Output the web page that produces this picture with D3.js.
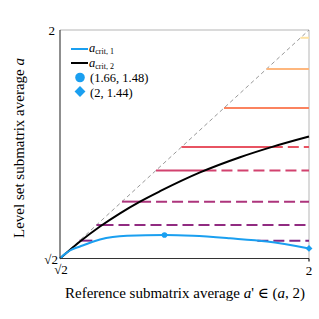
<!DOCTYPE html>
<html><head><meta charset="utf-8">
<script src="https://cdn.jsdelivr.net/npm/d3@7"></script>
<style>body{margin:0;background:#fff}svg{display:block}</style>
</head><body><svg id="c" width="319" height="319" font-family="'Liberation Serif','DejaVu Serif','Times New Roman',serif"></svg>
<script>
const SQ2 = Math.SQRT2;
// a_crit,1 (blue) samples
const crit1X = [SQ2, 1.4260, 1.4377, 1.4613, 1.5083, 1.5718, 1.6612, 1.7271, 1.8142, 1.9012, 2.0];
const crit1Y = [SQ2, 1.4260, 1.4347, 1.4450, 1.4629, 1.4724, 1.4744, 1.4724, 1.4660, 1.4578, 1.4401];
// a_crit,2 (black) samples
const crit2X = [SQ2, 1.4613, 1.5083, 1.5554, 1.6024, 1.6495, 1.7436, 1.8377, 1.9153, 2.0];
const crit2Y = [SQ2, 1.4578, 1.4962, 1.5301, 1.5601, 1.5867, 1.6349, 1.6739, 1.7011, 1.7270];
// level sets a
const levels = [1.98, 1.90, 1.80, 1.70, 1.64, 1.56, 1.50, 1.46];
// highlighted points
const maxPoint = [1.66, 1.4744];
const endPoint = [2.0, 1.4401];
const legendLabels = ["(1.66, 1.48)", "(2, 1.44)"];
const xTickLabels = ["√2", "2"];
const yTickLabels = ["√2", "2"];

const svg = d3.select("#c");
const x = d3.scaleLinear([SQ2, 2], [60, 309]);
const y = d3.scaleLinear([SQ2, 2], [258.5, 30]);

function interp(xs, ys, v) {
  if (v <= xs[0]) return ys[0];
  for (let i = 1; i < xs.length; i++) {
    if (v <= xs[i]) { const t = (v - xs[i-1]) / (xs[i] - xs[i-1]); return ys[i-1] + t * (ys[i] - ys[i-1]); }
  }
  return ys[ys.length-1];
}
const curve = d3.curveMonotoneX;

// frame
svg.append("line").attr("x1", x(SQ2)).attr("x2", x(2)).attr("y1", y(2)).attr("y2", y(2)).attr("stroke", "#b5b5b5").attr("stroke-width", 1);
svg.append("line").attr("x1", x(2)).attr("x2", x(2)).attr("y1", y(2)).attr("y2", y(SQ2)).attr("stroke", "#b5b5b5").attr("stroke-width", 1);

// diagonal
svg.append("line").attr("x1", x(SQ2)).attr("y1", y(SQ2)).attr("x2", x(2)).attr("y2", y(2))
  .attr("stroke", "#999").attr("stroke-width", 1).attr("stroke-dasharray", "4,3");

// level lines
const N = 600;
levels.forEach(L => {
  const col = d3.interpolateMagma(0.32 + 0.64 * (L - SQ2) / (2 - SQ2));
  const runs = [];
  let cur = null;
  for (let i = 0; i <= N; i++) {
    const ap = L + (2 - L) * i / N;
    const c1 = interp(crit1X, crit1Y, ap), c2 = interp(crit2X, crit2Y, ap);
    const st = L <= c1 ? 0 : (L >= c2 ? 2 : 1);
    if (!cur || cur.st !== st) { if (cur) { cur.b = ap; runs.push(cur); } cur = {st, a: ap, b: ap}; }
    else cur.b = ap;
  }
  runs.push(cur);
  runs.filter(r => r.st > 0 && r.b > r.a).forEach(r => {
    svg.append("line").attr("x1", x(r.a)).attr("x2", x(r.b)).attr("y1", y(L)).attr("y2", y(L))
      .attr("stroke", col).attr("stroke-width", 2)
      .attr("stroke-dasharray", r.st === 1 ? "11,5" : null);
  });
});

// black curve
svg.append("path").datum(d3.zip(crit2X, crit2Y))
  .attr("d", d3.line().x(d => x(d[0])).y(d => y(d[1])).curve(curve))
  .attr("fill", "none").attr("stroke", "#000").attr("stroke-width", 2);
// blue curve
svg.append("path").datum(d3.zip(crit1X, crit1Y))
  .attr("d", d3.line().x(d => x(d[0])).y(d => y(d[1])).curve(curve))
  .attr("fill", "none").attr("stroke", "#1a9ff0").attr("stroke-width", 2);
// small markers on curve
svg.append("circle").attr("cx", x(maxPoint[0])).attr("cy", y(maxPoint[1])).attr("r", 2.8).attr("fill", "#1a9ff0");
svg.append("path").attr("d", d3.symbol(d3.symbolDiamond2, 30)()).attr("transform", `translate(${x(endPoint[0])},${y(endPoint[1])})`).attr("fill", "#1a9ff0");

// axes spines
svg.append("line").attr("x1", x(SQ2)).attr("x2", x(SQ2)).attr("y1", y(2)).attr("y2", y(SQ2)).attr("stroke", "#333").attr("stroke-width", 1.1);
svg.append("line").attr("x1", x(SQ2)).attr("x2", x(2)).attr("y1", y(SQ2)).attr("y2", y(SQ2)).attr("stroke", "#333").attr("stroke-width", 1.1);
svg.append("line").attr("x1", x(2)).attr("x2", x(2)).attr("y1", y(SQ2)).attr("y2", y(SQ2)+3).attr("stroke", "#000").attr("stroke-width", 1.1);

// tick labels
const fs = 13;
svg.append("text").attr("x", x(SQ2) - 2).attr("y", y(SQ2) + 5).attr("text-anchor", "end").attr("font-size", fs).text(yTickLabels[0]);
svg.append("text").attr("x", x(SQ2) - 5).attr("y", y(2) + 5).attr("text-anchor", "end").attr("font-size", fs).text(yTickLabels[1]);
svg.append("text").attr("x", x(SQ2) + 1).attr("y", y(SQ2) + 15).attr("text-anchor", "middle").attr("font-size", fs).text(xTickLabels[0]);
svg.append("text").attr("x", x(2)).attr("y", y(SQ2) + 16).attr("text-anchor", "middle").attr("font-size", fs).text(xTickLabels[1]);

// axis titles
const xt = svg.append("text").attr("x", 185).attr("y", 298).attr("text-anchor", "middle").attr("font-size", 15);
xt.append("tspan").text("Reference submatrix average ");
xt.append("tspan").attr("font-style", "italic").text("a");
xt.append("tspan").text("' ∈ (");
xt.append("tspan").attr("font-style", "italic").text("a");
xt.append("tspan").text(", 2)");
const yt = svg.append("text").attr("transform", "translate(24,148) rotate(-90)").attr("text-anchor", "middle").attr("font-size", 15);
yt.append("tspan").text("Level set submatrix average ");
yt.append("tspan").attr("font-style", "italic").text("a");

// legend
const lg = svg.append("g");
const crit = (yy, sub) => {
  const t = lg.append("text").attr("x", 89).attr("y", yy).attr("font-size", 12.5);
  t.append("tspan").attr("font-style", "italic").text("a");
  t.append("tspan").attr("font-size", 8).attr("dy", 2).text(sub);
};
lg.append("line").attr("x1", 71).attr("x2", 88).attr("y1", 49).attr("y2", 49).attr("stroke", "#1a9ff0").attr("stroke-width", 2);
crit(52, "crit, 1");
lg.append("line").attr("x1", 71).attr("x2", 88).attr("y1", 63).attr("y2", 63).attr("stroke", "#000").attr("stroke-width", 2);
crit(67, "crit, 2");
lg.append("circle").attr("cx", 80).attr("cy", 77.5).attr("r", 4.8).attr("fill", "#1a9ff0");
lg.append("text").attr("x", 90).attr("y", 82).attr("font-size", 12.5).text(legendLabels[0]);
lg.append("path").attr("d", d3.symbol(d3.symbolDiamond2, 75)()).attr("transform", "translate(80,91.5)").attr("fill", "#1a9ff0");
lg.append("text").attr("x", 90).attr("y", 96.5).attr("font-size", 12.5).text(legendLabels[1]);
</script></body></html>
